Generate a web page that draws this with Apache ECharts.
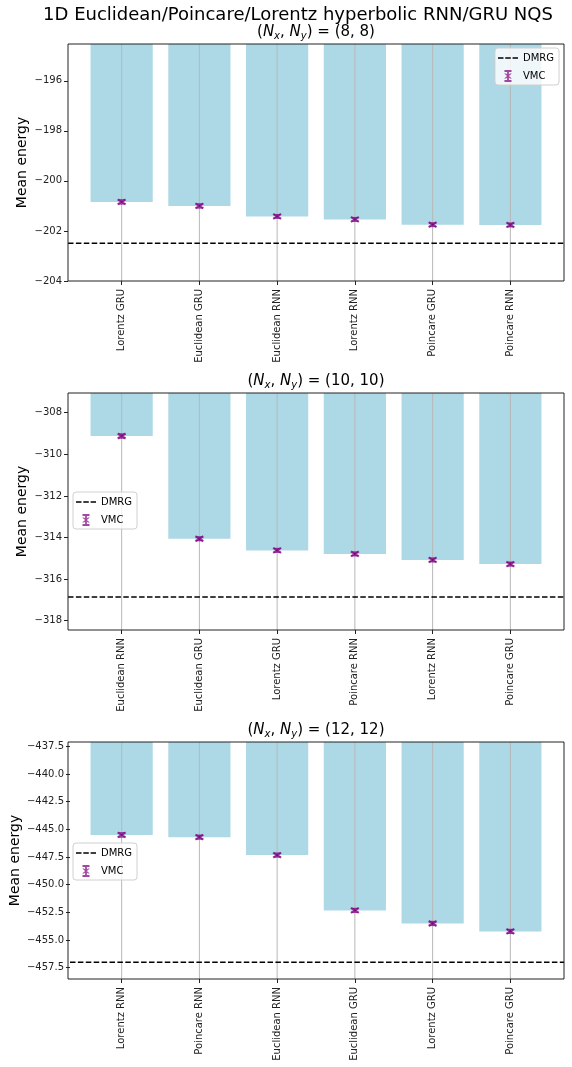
<!DOCTYPE html>
<html>
<head>
<meta charset="utf-8">
<title>Hyperbolic RNN/GRU NQS</title>
<script src="https://cdn.jsdelivr.net/npm/echarts@6/dist/echarts.min.js"></script>
<style>
html, body { margin: 0; padding: 0; background: #fff; }
#main { width: 572px; height: 1067px; }
</style>
</head>
<body>
<div id="main"></div>
<script>
// (8, 8)
var cats1 = ['Lorentz GRU', 'Euclidean GRU', 'Euclidean RNN', 'Lorentz RNN', 'Poincare GRU', 'Poincare RNN'];
var energy1 = [-200.84, -201.0, -201.42, -201.54, -201.75, -201.76];
var err1 = [0.04, 0.04, 0.03, 0.03, 0.03, 0.03];
var dmrg1 = -202.49;
var yRange1 = [-204, -194.53];
var yTicks1 = [-204, -202, -200, -198, -196];

// (10, 10)
var cats2 = ['Euclidean RNN', 'Euclidean GRU', 'Lorentz GRU', 'Poincare RNN', 'Lorentz RNN', 'Poincare GRU'];
var energy2 = [-309.12, -314.06, -314.62, -314.79, -315.08, -315.28];
var err2 = [0.05, 0.04, 0.04, 0.04, 0.04, 0.04];
var dmrg2 = -316.86;
var yRange2 = [-318.45, -307.05];
var yTicks2 = [-318, -316, -314, -312, -310, -308];

// (12, 12)
var cats3 = ['Lorentz RNN', 'Poincare RNN', 'Euclidean RNN', 'Euclidean GRU', 'Lorentz GRU', 'Poincare GRU'];
var energy3 = [-445.5, -445.7, -447.32, -452.32, -453.5, -454.22];
var err3 = [0.1, 0.08, 0.08, 0.08, 0.08, 0.08];
var dmrg3 = -457.0;
var yRange3 = [-458.52, -437.1];
var yTicks3 = [-457.5, -455, -452.5, -450, -447.5, -445, -442.5, -440, -437.5];

var sizes = ['(8, 8)', '(10, 10)', '(12, 12)'];

var FONT = 'DejaVu Sans';
var PURPLE = 'rgba(128,0,128,0.72)';
var PL = 68, PR = 564, PH = 237;
var tops = [44, 393, 742];
var nameGaps = [39, 39, 48];
// matplotlib bar layout: xlim = [-0.69, 5.69], bars at integer positions
var unit = (PR - PL) / 6.38;
var inset = unit * 0.19;

var panels = [
    {cats: cats1, energy: energy1, err: err1, dmrg: dmrg1, range: yRange1, ticks: yTicks1, dec: 0},
    {cats: cats2, energy: energy2, err: err2, dmrg: dmrg2, range: yRange2, ticks: yTicks2, dec: 0},
    {cats: cats3, energy: energy3, err: err3, dmrg: dmrg3, range: yRange3, ticks: yTicks3, dec: 1}
];

function fmt(dec) {
    return function(v) {
        return (v < 0 ? '\u2212' : '') + Math.abs(v).toFixed(dec);
    };
}

// vertical grid line + error bar with caps + 'x' marker
function renderErr(params, api) {
    var i = api.value(0), v = api.value(1), e = api.value(2);
    var c = api.coord([i, v]);
    var hi = api.coord([i, v + e]);
    var lo = api.coord([i, v - e]);
    var cs = params.coordSys;
    var x = c[0], y = c[1];
    return {
        type: 'group',
        children: [
            {type: 'line', shape: {x1: x, y1: cs.y, x2: x, y2: cs.y + cs.height},
             style: {stroke: '#b8b8b8', lineWidth: 1}},
            {type: 'line', shape: {x1: x, y1: hi[1], x2: x, y2: lo[1]},
             style: {stroke: PURPLE, lineWidth: 1.5}},
            {type: 'line', shape: {x1: x - 3.5, y1: hi[1] - 1, x2: x + 3.5, y2: hi[1] - 1},
             style: {stroke: PURPLE, lineWidth: 1.5}},
            {type: 'line', shape: {x1: x - 3.5, y1: lo[1] + 1, x2: x + 3.5, y2: lo[1] + 1},
             style: {stroke: PURPLE, lineWidth: 1.5}},
            {type: 'line', shape: {x1: x - 4, y1: y - 2.5, x2: x + 4, y2: y + 2.5},
             style: {stroke: PURPLE, lineWidth: 2.2}},
            {type: 'line', shape: {x1: x - 4, y1: y + 2.5, x2: x + 4, y2: y - 2.5},
             style: {stroke: PURPLE, lineWidth: 2.2}}
        ]
    };
}

// horizontal dashed reference line across the whole axes
function renderDmrg(params, api) {
    var cs = params.coordSys;
    var y = api.coord([0, api.value(1)])[1];
    return {
        type: 'line',
        shape: {x1: cs.x, y1: y, x2: cs.x + cs.width, y2: y},
        style: {stroke: '#000', lineWidth: 1.5, lineDash: [5.5, 2.4]}
    };
}

var vmcIcon = 'path://M0,0 M20,12 M6.5,0 H13.5 V2 H6.5 Z M6.5,10 H13.5 V12 H6.5 Z M9.1,0 H10.9 V12 H9.1 Z ' +
    'M6.2,3.4 L8,3.4 L13.8,8.6 L12,8.6 Z M12,3.4 L13.8,3.4 L8,8.6 L6.2,8.6 Z';
var dmrgIcon = 'path://M0,0 M20,12 M0,5.3 H5.5 V6.7 H0 Z M7.3,5.3 H12.8 V6.7 H7.3 Z M14.6,5.3 H20 V6.7 H14.6 Z';

var grids = [], xAxes = [], yAxes = [], series = [], legends = [], graphics = [];

graphics.push({
    type: 'text', x: 298, y: 15, z: 100,
    style: {text: '1D Euclidean/Poincare/Lorentz hyperbolic RNN/GRU NQS', fontFamily: FONT,
            fontSize: 18, fill: '#000', align: 'center', verticalAlign: 'middle'}
});

var legendPos = [
    {right: 13, top: 48},
    {left: 73, top: 492},
    {left: 73, top: 843}
];

panels.forEach(function(p, k) {
    var top = tops[k];
    // frame grid (full axes width)
    grids.push({left: PL, top: top, width: PR - PL, height: PH});
    // bar grid (inset so bars sit at matplotlib positions)
    grids.push({left: PL + inset, top: top, width: PR - PL - 2 * inset, height: PH});

    xAxes.push({gridIndex: 2 * k, type: 'value', min: 0, max: 1, show: false});
    xAxes.push({
        gridIndex: 2 * k + 1, type: 'category', data: p.cats,
        axisLine: {show: false},
        axisTick: {show: true, alignWithLabel: true, length: 4, lineStyle: {color: '#222'}},
        axisLabel: {rotate: 90, fontSize: 10, fontFamily: FONT, color: '#222', margin: 8, interval: 0},
        splitLine: {show: false}
    });

    yAxes.push({
        gridIndex: 2 * k, type: 'value', min: p.range[0], max: p.range[1],
        name: 'Mean energy', nameLocation: 'middle', nameGap: nameGaps[k], nameMoveOverlap: false,
        nameTextStyle: {fontSize: 14, fontFamily: FONT, color: '#000'},
        axisLine: {show: false},
        axisTick: {show: true, length: 4, customValues: p.ticks, lineStyle: {color: '#222'}},
        axisLabel: {fontSize: 10, fontFamily: FONT, color: '#222', margin: 6,
                    customValues: p.ticks, formatter: fmt(p.dec)},
        splitLine: {show: false}
    });
    yAxes.push({gridIndex: 2 * k + 1, type: 'value', min: p.range[0], max: p.range[1], show: false});

    series.push({
        type: 'bar', name: 'Mean', xAxisIndex: 2 * k + 1, yAxisIndex: 2 * k + 1,
        data: p.energy, barCategoryGap: '20%', clip: true, z: 2,
        itemStyle: {color: '#add8e6'}, silent: true
    });
    series.push({
        type: 'custom', name: 'VMC', xAxisIndex: 2 * k + 1, yAxisIndex: 2 * k + 1,
        data: p.energy.map(function(v, i) { return [i, v, p.err[i]]; }),
        encode: {x: 0, y: 1}, renderItem: renderErr, z: 3,
        itemStyle: {color: PURPLE}, silent: true
    });
    series.push({
        type: 'custom', name: 'DMRG', xAxisIndex: 2 * k, yAxisIndex: 2 * k,
        data: [[0.5, p.dmrg]], encode: {x: 0, y: 1}, renderItem: renderDmrg, z: 4,
        itemStyle: {color: '#000'}, silent: true
    });

    var lg = {
        orient: 'vertical',
        data: [
            {name: 'DMRG', icon: dmrgIcon, itemStyle: {color: '#000', borderWidth: 0}},
            {name: 'VMC', icon: vmcIcon, itemStyle: {color: PURPLE, borderWidth: 0}}
        ],
        itemWidth: 20, itemHeight: 12, itemGap: 6, padding: [4, 5, 3, 3],
        backgroundColor: 'rgba(255,255,255,0.8)', borderColor: '#d0d0d0', borderWidth: 1,
        borderRadius: 3, textStyle: {fontSize: 10, fontFamily: FONT, color: '#000'},
        selectedMode: false, z: 10
    };
    Object.assign(lg, legendPos[k]);
    legends.push(lg);

    graphics.push({
        type: 'rect', z: 50, silent: true,
        shape: {x: PL, y: top, width: PR - PL, height: PH},
        style: {fill: null, stroke: '#222', lineWidth: 1}
    });
    graphics.push({
        type: 'text', x: (PL + PR) / 2, y: top - 12, z: 100,
        style: {
            text: '({n|N}{s|x}, {n|N}{s|y}) = ' + sizes[k],
            fontFamily: FONT, fontSize: 15, fill: '#000', align: 'center', verticalAlign: 'middle',
            lineHeight: 18,
            rich: {
                n: {fontStyle: 'italic', fontSize: 15, fontFamily: FONT, lineHeight: 18},
                s: {fontStyle: 'italic', fontSize: 10, fontFamily: FONT, verticalAlign: 'bottom', lineHeight: 12}
            }
        }
    });
});

var myChart = echarts.init(document.getElementById('main'), null, {renderer: 'canvas'});
var option = {
    animation: false,
    backgroundColor: '#fff',
    grid: grids,
    xAxis: xAxes,
    yAxis: yAxes,
    legend: legends,
    series: series,
    graphic: graphics
};
myChart.setOption(option);
</script>
</body>
</html>
